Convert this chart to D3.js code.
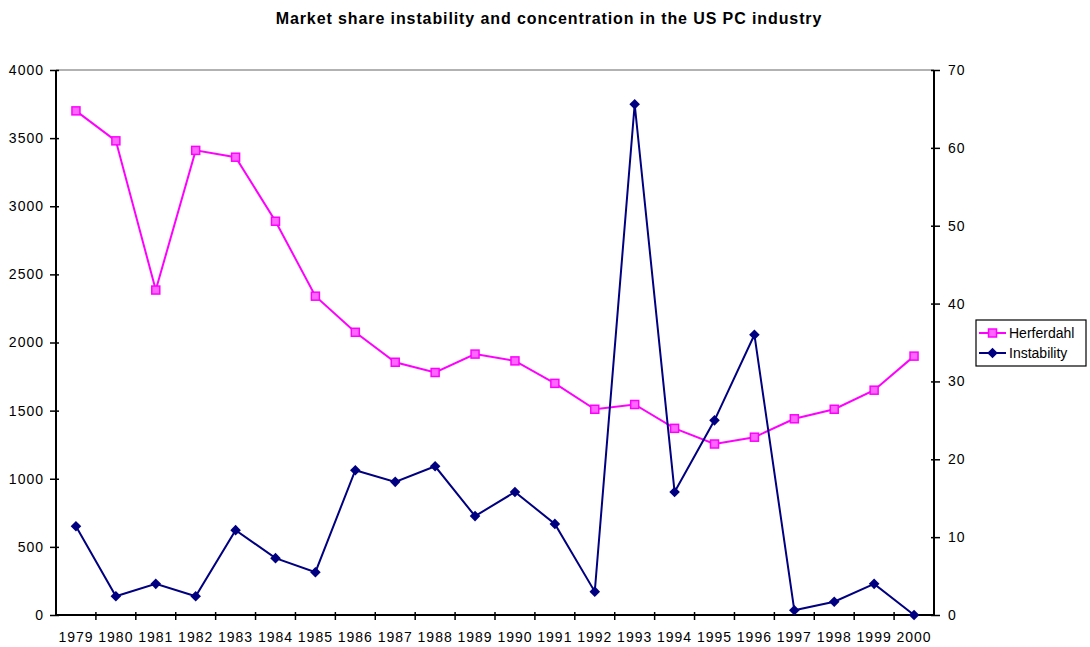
<!DOCTYPE html>
<html>
<head>
<meta charset="utf-8">
<script src="https://cdn.jsdelivr.net/npm/d3@7"></script>
<style>
  body { margin: 0; background: #fff; }
  text { font-family: Arial, "Liberation Sans", sans-serif; }
</style>
</head>
<body>
<svg width="1090" height="647"></svg>
<script>
var years = ["1979","1980","1981","1982","1983","1984","1985","1986","1987","1988","1989",
             "1990","1991","1992","1993","1994","1995","1996","1997","1998","1999","2000"];
var herfindahl = [3700,3480,2385,3410,3360,2890,2340,2075,1855,1780,1915,
                  1865,1700,1510,1545,1370,1255,1305,1440,1510,1650,1900];
var instability = [11.4,2.4,4.0,2.4,10.9,7.3,5.5,18.6,17.1,19.1,12.7,
                   15.8,11.7,3.0,65.6,15.8,25.0,36.0,0.6,1.7,4.0,0.0];
var leftTicks = [0,500,1000,1500,2000,2500,3000,3500,4000];
var rightTicks = [0,10,20,30,40,50,60,70];

var svg = d3.select("svg");
var plotL = 56, plotR = 934, plotT = 70, plotB = 615;
var font = "Arial, 'Liberation Sans', sans-serif";

var x = d3.scaleBand().domain(years).range([plotL, plotR]);
var yL = d3.scaleLinear().domain([0, 4000]).range([plotB, plotT]);
var yR = d3.scaleLinear().domain([0, 70]).range([plotB, plotT]);

// title
svg.append("text")
  .attr("x", 549).attr("y", 24)
  .attr("text-anchor", "middle")
  .attr("font-size", "16px").attr("font-weight", "bold")
  .attr("letter-spacing", "0.9px")
  .text("Market share instability and concentration in the US PC industry");

// top border (grey)
svg.append("line")
  .attr("x1", plotL).attr("x2", plotR).attr("y1", plotT).attr("y2", plotT)
  .attr("stroke", "#999").attr("stroke-width", 1.5);

// left axis
var gL = svg.append("g").attr("transform", "translate(" + plotL + ",0)")
  .call(d3.axisLeft(yL).tickValues(leftTicks).tickSize(6).tickPadding(6).tickFormat(d3.format("d")));
// right axis
var gR = svg.append("g").attr("transform", "translate(" + plotR + ",0)")
  .call(d3.axisRight(yR).tickValues(rightTicks).tickSize(6).tickPadding(8));
[gL, gR].forEach(function(g) {
  g.select(".domain").attr("stroke", "#000").attr("stroke-width", 2).attr("d", "M0," + plotT + "V" + plotB);
  g.selectAll(".tick line").attr("stroke", "#000").attr("stroke-width", 1.5);
  g.selectAll(".tick text").attr("font-size", "14px").attr("letter-spacing", "1px")
    .attr("fill", "#000").attr("font-family", font);
});
gL.selectAll(".tick line").attr("x1", 3).attr("x2", -6);
gR.selectAll(".tick line").attr("x1", -3).attr("x2", 6);

// bottom axis
var gX = svg.append("g").attr("transform", "translate(0," + plotB + ")")
  .call(d3.axisBottom(x).tickSize(0).tickPadding(17));
gX.select(".domain").attr("stroke", "#000").attr("stroke-width", 2).attr("d", "M" + plotL + ",0H" + plotR);
gX.selectAll(".tick text").attr("font-size", "14px").attr("letter-spacing", "1px")
  .attr("fill", "#000").attr("font-family", font);
// category boundary ticks
gX.append("g").selectAll("line")
  .data(years.slice(1))
  .enter().append("line")
  .attr("x1", function(d) { return x(d); }).attr("x2", function(d) { return x(d); })
  .attr("y1", -3).attr("y2", 5)
  .attr("stroke", "#000").attr("stroke-width", 1.5);

function cx(d, i) { return x(years[i]) + x.bandwidth() / 2; }

// Herfindahl line
svg.append("path")
  .datum(herfindahl)
  .attr("fill", "none").attr("stroke", "#ff00ff").attr("stroke-width", 2)
  .attr("d", d3.line().x(cx).y(function(d) { return yL(d); }));
svg.append("g").selectAll("rect")
  .data(herfindahl)
  .enter().append("rect")
  .attr("x", function(d, i) { return cx(d, i) - 4; })
  .attr("y", function(d) { return yL(d) - 4; })
  .attr("width", 8).attr("height", 8)
  .attr("fill", "#ff66ff").attr("stroke", "#ff00ff").attr("stroke-width", 1.5);

// Instability line
var diamond = d3.symbol().type(d3.symbolSquare).size(56);
svg.append("path")
  .datum(instability)
  .attr("fill", "none").attr("stroke", "#000080").attr("stroke-width", 2)
  .attr("d", d3.line().x(cx).y(function(d) { return yR(d); }));
svg.append("g").selectAll("path")
  .data(instability)
  .enter().append("path")
  .attr("d", diamond)
  .attr("transform", function(d, i) { return "translate(" + cx(d, i) + "," + yR(d) + ") rotate(45)"; })
  .attr("fill", "#000080");

// legend
var lg = svg.append("g").attr("transform", "translate(976,320)");
lg.append("rect").attr("width", 110).attr("height", 46)
  .attr("fill", "#fff").attr("stroke", "#000").attr("stroke-width", 1.2);
lg.append("line").attr("x1", 3).attr("x2", 30).attr("y1", 13).attr("y2", 13)
  .attr("stroke", "#ff00ff").attr("stroke-width", 2);
lg.append("rect").attr("x", 12.5).attr("y", 9).attr("width", 8).attr("height", 8)
  .attr("fill", "#ff66ff").attr("stroke", "#ff00ff").attr("stroke-width", 1.5);
lg.append("text").attr("x", 33).attr("y", 18).attr("font-size", "14px").text("Herferdahl");
lg.append("line").attr("x1", 3).attr("x2", 30).attr("y1", 33).attr("y2", 33)
  .attr("stroke", "#000080").attr("stroke-width", 2);
lg.append("path").attr("d", diamond).attr("transform", "translate(16.5,33) rotate(45)").attr("fill", "#000080");
lg.append("text").attr("x", 33).attr("y", 38).attr("font-size", "14px").text("Instability");
</script>
</body>
</html>
